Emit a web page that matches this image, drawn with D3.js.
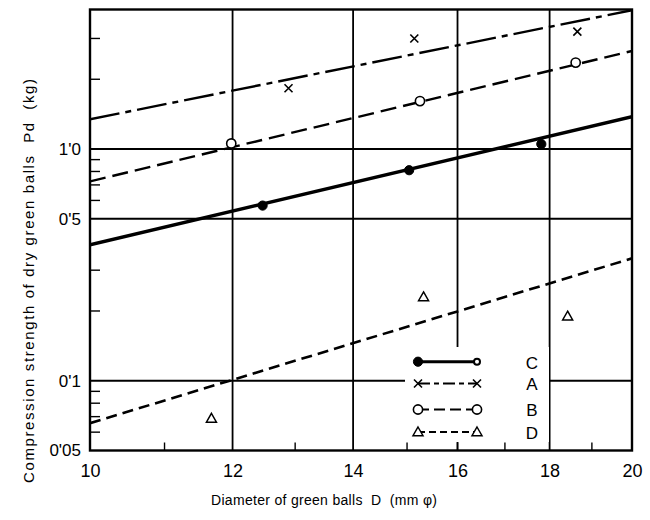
<!DOCTYPE html>
<html>
<head>
<meta charset="utf-8">
<script src="https://cdn.jsdelivr.net/npm/d3@7"></script>
<style>
  html, body { margin: 0; padding: 0; background: #fff; }
  svg { display: block; }
  text { font-family: "Liberation Sans", Arial, sans-serif; fill: #000; }
</style>
</head>
<body>
<script>
// ---------------- data ----------------
const xTickValues = [10, 12, 14, 16, 18, 20];
const xTickLabels = ["10", "12", "14", "16", "18", "20"];
const xGridValues = [12, 14, 16, 18];
const xMinorTicks = [11, 13, 15, 16, 17, 19];

const yTickValues = [0.05, 0.1, 0.5, 1.0];
const yTickLabels = ["0'05", "0'1", "0'5", "1'0"];
const yGridValues = [0.1, 0.5, 1.0];
const yMinorTicks = [0.06, 0.07, 0.08, 0.09, 0.2, 0.3, 0.6, 0.7, 0.8, 0.9, 2, 3];

const seriesNames = ["C", "A", "B", "D"];

// measured points (diameter mm, strength kg)
const pointsC_D = [12.47, 15.04, 17.81];
const pointsC_P = [0.57, 0.81, 1.05];
const pointsA_D = [12.89, 15.14, 18.65];
const pointsA_P = [1.83, 3.0, 3.21];
const pointsB_D = [11.98, 15.25, 18.61];
const pointsB_P = [1.057, 1.61, 2.36];
const pointsD_D = [11.68, 15.32, 18.42];
const pointsD_P = [0.0688, 0.23, 0.19];

// fitted straight lines (values at D = 10 and D = 20)
const fitD = [10, 20];
const fitC = [0.386, 1.378];
const fitA = [1.343, 3.97];
const fitB = [0.725, 2.65];
const fitDline = [0.0656, 0.3375];

// ---------------- chart ----------------
const W = 650, H = 520;
const L = 90, R = 632, T = 9.5, B = 450.5;

const svg = d3.select("body").append("svg").attr("width", W).attr("height", H);

const x = d3.scaleLog().domain([10, 20]).range([L, R]);
const y = d3.scaleLog().domain([0.05, 4]).range([B, T]);

svg.append("defs").append("clipPath").attr("id", "plot")
  .append("rect").attr("x", L).attr("y", T).attr("width", R - L).attr("height", B - T);

// grid
const grid = svg.append("g").attr("stroke", "#000").attr("stroke-width", 1.8);
grid.selectAll("line.gx").data(xGridValues).join("line")
  .attr("x1", d => x(d)).attr("x2", d => x(d)).attr("y1", T).attr("y2", B);
grid.selectAll("line.gy").data(yGridValues).join("line")
  .attr("x1", L).attr("x2", R).attr("y1", d => y(d)).attr("y2", d => y(d));

// legend background (masks the grid)
const legX0 = 405, legX1 = 549, legY0 = 347, legY1 = 442;
svg.append("rect").attr("x", legX0).attr("y", legY0)
  .attr("width", legX1 - legX0).attr("height", legY1 - legY0).attr("fill", "#fff");

// minor ticks
const ticks = svg.append("g").attr("stroke", "#000").attr("stroke-width", 1.4);
ticks.selectAll("line.mx").data(xMinorTicks).join("line")
  .attr("x1", d => x(d)).attr("x2", d => x(d)).attr("y1", B).attr("y2", B - 8);
ticks.selectAll("line.my").data(yMinorTicks).join("line")
  .attr("x1", L).attr("x2", L + 10).attr("y1", d => y(d)).attr("y2", d => y(d));

// frame
svg.append("rect").attr("x", L).attr("y", T).attr("width", R - L).attr("height", B - T)
  .attr("fill", "none").attr("stroke", "#000").attr("stroke-width", 2.4);

// axis tick labels (via d3 axes, domain/tick lines hidden)
const xAxis = d3.axisBottom(x).tickValues(xTickValues)
  .tickFormat((d, i) => xTickLabels[i]).tickSize(0).tickPadding(14);
const gx = svg.append("g").attr("transform", `translate(0,${B})`).call(xAxis);
gx.select(".domain").remove();
gx.selectAll("text").style("font-size", "18px").style("font-family", "Liberation Sans, Arial, sans-serif")
  .attr("fill", "#000");

const yAxis = d3.axisLeft(y).tickValues(yTickValues)
  .tickFormat((d, i) => yTickLabels[i]).tickSize(0).tickPadding(9);
const gy = svg.append("g").attr("transform", `translate(${L},0)`).call(yAxis);
gy.select(".domain").remove();
gy.selectAll("text").style("font-size", "17px").style("font-family", "Liberation Sans, Arial, sans-serif")
  .attr("fill", "#000");

// axis titles
svg.append("text")
  .attr("transform", "translate(34,281) rotate(-90)")
  .attr("text-anchor", "middle")
  .attr("textLength", 404).attr("lengthAdjust", "spacing")
  .style("font-size", "15px")
  .text("Compression strength of dry green balls\u00a0\u00a0Pd\u00a0\u00a0(kg)");

svg.append("text")
  .attr("x", 324).attr("y", 505)
  .attr("text-anchor", "middle")
  .attr("textLength", 226).attr("lengthAdjust", "spacing")
  .style("font-size", "14px")
  .text("Diameter of green balls\u00a0\u00a0D\u00a0\u00a0(mm\u00a0φ)");

// ---------------- series lines ----------------
const styles = {
  C: { w: 3.4, dash: null },
  A: { w: 2.4, dash: "30,6,6,6" },
  B: { w: 2.4, dash: "16,7" },
  D: { w: 2.6, dash: "11,6" }
};
const fits = { C: fitC, A: fitA, B: fitB, D: fitDline };
const line = d3.line().x(d => x(d[0])).y(d => y(d[1]));

const plot = svg.append("g").attr("clip-path", "url(#plot)");
seriesNames.forEach(name => {
  const pts = fitD.map((d, i) => [d, fits[name][i]]);
  plot.append("path").datum(pts).attr("d", line)
    .attr("fill", "none").attr("stroke", "#000")
    .attr("stroke-width", styles[name].w)
    .attr("stroke-dasharray", styles[name].dash);
});

// ---------------- markers ----------------
function drawMarker(g, type, cx, cy, small) {
  if (type === "C") {
    g.append("circle").attr("cx", cx).attr("cy", cy).attr("r", small ? 3 : 4.6)
      .attr("fill", small ? "#fff" : "#000").attr("stroke", "#000").attr("stroke-width", small ? 2 : 1);
  } else if (type === "B") {
    g.append("circle").attr("cx", cx).attr("cy", cy).attr("r", 4.6)
      .attr("fill", "#fff").attr("stroke", "#000").attr("stroke-width", 1.6);
  } else if (type === "A") {
    const s = 4;
    g.append("path")
      .attr("d", `M${cx - s},${cy - s}L${cx + s},${cy + s}M${cx - s},${cy + s}L${cx + s},${cy - s}`)
      .attr("stroke", "#000").attr("stroke-width", 1.6).attr("fill", "none");
  } else if (type === "D") {
    const s = 5;
    g.append("path")
      .attr("d", `M${cx},${cy - s}L${cx + s},${cy + s * 0.75}L${cx - s},${cy + s * 0.75}Z`)
      .attr("stroke", "#000").attr("stroke-width", 1.5).attr("fill", "#fff");
  }
}

const pts = {
  C: [pointsC_D, pointsC_P],
  A: [pointsA_D, pointsA_P],
  B: [pointsB_D, pointsB_P],
  D: [pointsD_D, pointsD_P]
};
const mk = svg.append("g");
seriesNames.forEach(name => {
  const [ds, ps] = pts[name];
  ds.forEach((d, i) => drawMarker(mk, name, x(d), y(ps[i]), false));
});

// ---------------- legend ----------------
const legRowsY = [361.7, 383.5, 409.5, 432];
const legXa = 418, legXb = 477;
const leg = svg.append("g");
seriesNames.forEach((name, i) => {
  const yy = legRowsY[i];
  leg.append("line").attr("x1", legXa).attr("x2", legXb).attr("y1", yy).attr("y2", yy)
    .attr("stroke", "#000").attr("stroke-width", name === "C" ? 3 : 2)
    .attr("stroke-dasharray", name === "C" ? null :
      name === "A" ? "12,4,5,4" : name === "B" ? "11,5" : "7,4");
  drawMarker(leg, name, legXa, yy, false);
  drawMarker(leg, name, legXb, yy, name === "C");
  leg.append("text").attr("x", 532).attr("y", yy + 1).attr("dy", "0.35em")
    .attr("text-anchor", "middle").style("font-size", "17px").text(name);
});
</script>
</body>
</html>
